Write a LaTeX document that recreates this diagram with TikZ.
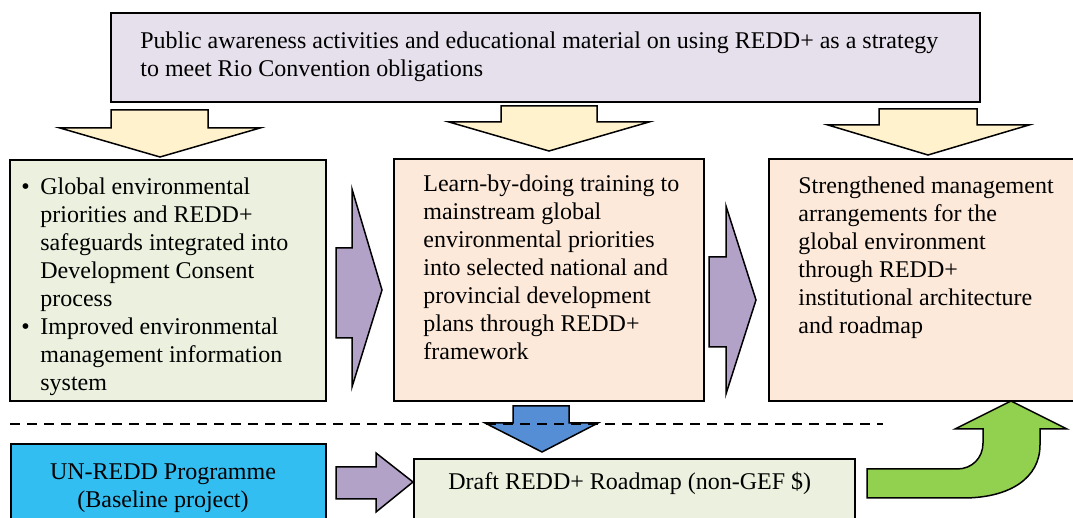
\documentclass[tikz,border=0pt]{standalone}
\usepackage{fontspec}
\setmainfont{Liberation Serif}
\usetikzlibrary{positioning}

\definecolor{lilac}{HTML}{E6E0EC}
\definecolor{cream}{HTML}{FFF2CC}
\definecolor{sage}{HTML}{EBF1DE}
\definecolor{peach}{HTML}{FDE9D9}
\definecolor{mauve}{HTML}{B3A2C7}
\definecolor{steel}{HTML}{558ED5}
\definecolor{sky}{HTML}{33BEF2}
\definecolor{leaf}{HTML}{92D050}

\begin{document}
\begin{tikzpicture}[
      x=0.5pt, y=-0.5pt,
      box/.style={draw=black, line width=1pt, inner sep=0pt, anchor=north west},
      txt/.style={inner sep=0pt, text width=#1, font=\fontsize{12}{14}\selectfont,
        execute at begin node={\spaceskip=3pt plus 1.5pt minus 1pt\relax}},
      blockarrow/.style={draw=black, line width=0.75pt, line join=miter},
      divider/.style={dashed, dash pattern=on 5pt off 3.5pt, line width=0.6pt}
      ]

      \path[fill=white, use as bounding box] (0,0) rectangle (1073,518);

      % ---------------- BOXES ----------------
      \node[box, fill=lilac, minimum width=434.5pt, minimum height=44.5pt] (goal) at (110,12) {};
      \node[box, fill=sage, minimum width=158pt, minimum height=120.5pt] (outA) at (9,159) {};
      \node[box, fill=peach, minimum width=155pt, minimum height=121pt] (outB) at (393,158) {};
      \node[box, fill=peach, minimum width=160pt, minimum height=121pt] (outC) at (768,158) {};
      \node[box, fill=sky, minimum width=157.5pt, minimum height=50pt] (base) at (10,443) {};
      \node[box, fill=sage, minimum width=220.5pt, minimum height=42pt] (draft) at (413,458) {};

      % ---------------- TEXTS ----------------
      \node[txt=410pt, below right=9.8pt and 15pt of goal.north west] (goaltxt)
        {Public awareness activities and educational material on using REDD+ as a strategy\\
         to meet Rio Convention obligations};
      \node[txt=150pt, below right=9.3pt and 6pt of outA.north west] (outAtxt)
        {\makebox[9.5pt][l]{\textbullet}Global environmental\\
         \hspace*{9.5pt}priorities and REDD+\\
         \hspace*{9.5pt}safeguards integrated into\\
         \hspace*{9.5pt}Development Consent\\
         \hspace*{9.5pt}process\\
         \makebox[9.5pt][l]{\textbullet}Improved environmental\\
         \hspace*{9.5pt}management information\\
         \hspace*{9.5pt}system};
      \node[txt=150pt, below right=8.3pt and 15pt of outB.north west] (outBtxt)
        {Learn-by-doing training to\\
         mainstream global\\
         environmental priorities\\
         into selected national and\\
         provincial development\\
         plans through REDD+\\
         framework};
      \node[txt=150pt, below right=9.3pt and 15pt of outC.north west] (outCtxt)
        {Strengthened management\\
         arrangements for the\\
         global environment\\
         through REDD+\\
         institutional architecture\\
         and roadmap};
      \node[txt=150pt, anchor=north] (basetxt) at (163,463)
        {\centering UN-REDD Programme\\(Baseline project)\par};
      \node[txt=220pt, anchor=base west] (drafttxt) at (448,490)
        {Draft REDD+ Roadmap (non-GEF \$)};

      % ---------------- DOWN ARROWS FROM THE TOP BOX ----------------
      \draw[blockarrow, fill=cream] (111,110) -- (208,110) -- (208,128) -- (260,128)
        -- (160,157) -- (60,128) -- (111,128) -- cycle;
      \draw[blockarrow, fill=cream] (501,106) -- (597,106) -- (597,122) -- (649,122)
        -- (549,151) -- (449,122) -- (501,122) -- cycle;
      \draw[blockarrow, fill=cream] (879,109) -- (977,109) -- (977,125) -- (1029,125)
        -- (928,155) -- (828,125) -- (879,125) -- cycle;

      % ---------------- ARROWS BETWEEN OUTCOMES ----------------
      \draw[blockarrow, fill=mauve] (336,248) -- (352,248) -- (352,189) -- (382,290)
        -- (352,387) -- (352,338) -- (336,338) -- cycle;
      \draw[blockarrow, fill=mauve] (709,257) -- (726,257) -- (726,206) -- (756,300)
        -- (726,394) -- (726,347) -- (709,347) -- cycle;

      % ---------------- BASELINE ROW ----------------
      \draw[blockarrow, fill=mauve] (336,467) -- (376,467) -- (376,453) -- (draft.west |- 0,482)
        -- (376,512) -- (376,499) -- (336,499) -- cycle;
      \draw[blockarrow, fill=steel] (513,406) -- (569,406) -- (569,423) -- (598,423)
        -- (542,452) -- (485,423) -- (513,423) -- cycle;
      \draw[blockarrow, fill=leaf] (867,469) -- (957,469) .. controls (972,469) and (983,458) .. (983,443)
        -- (983,429) -- (955,429) -- (1011,401) -- (1067,429) -- (1040,429) -- (1040,445)
        .. controls (1040,478) and (1010,498) .. (963,498) -- (867,498) -- cycle;

      % ---------------- SEPARATOR ----------------
      \coordinate (sepL) at (10,424);
      \coordinate (sepR) at (883,424);
      \draw[divider] (sepL) -- (sepR);

\end{tikzpicture}
\end{document}
